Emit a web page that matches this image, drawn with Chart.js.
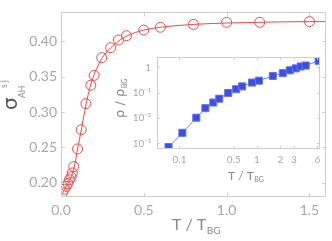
<!DOCTYPE html>
<html><head><meta charset="utf-8">
<script src="https://cdn.jsdelivr.net/npm/chart.js@4/dist/chart.umd.min.js"></script>
<style>
html,body{margin:0;padding:0;background:#fff;}
#wrap{position:relative;width:332px;height:241px;}
#main{position:absolute;left:0;top:0;}
#inset{position:absolute;left:105px;top:45px;}
</style></head>
<body><div id="wrap"><canvas id="main" width="332" height="241"></canvas><canvas id="inset" width="222" height="140"></canvas></div>
<script>
// ---- data ----
const T_main = [0.009,0.021,0.032,0.042,0.051,0.061,0.068,0.077,0.1,0.122,0.15,0.18,0.2,0.246,0.3,0.347,0.395,0.5,0.6,0.8,1.0,1.2,1.5];
const sigmaAH = [0.186,0.191,0.195,0.199,0.2045,0.2085,0.214,0.223,0.248,0.275,0.312,0.338,0.352,0.377,0.391,0.402,0.408,0.416,0.420,0.424,0.427,0.427,0.428];
const fitT = [0,0.01,0.03,0.05,0.07,0.085,0.1,0.125,0.15,0.175,0.2,0.25,0.3,0.35,0.4,0.5,0.6,0.8,1.0,1.2,1.5,1.6];
const fitSigma = [0.182,0.186,0.195,0.203,0.214,0.228,0.248,0.278,0.31,0.335,0.353,0.377,0.391,0.401,0.408,0.416,0.420,0.424,0.426,0.427,0.428,0.428];
const T_inset = [0.0723,0.109,0.165,0.216,0.273,0.326,0.425,0.538,0.643,0.863,1.06,1.6,2.15,2.65,3.16,3.66,4.25,6.24];
const rhoRatio = [0.00071,0.0026,0.0103,0.0245,0.041,0.058,0.0975,0.138,0.178,0.252,0.299,0.46,0.596,0.77,0.92,1.09,1.19,1.83];
const mainXTicks = [0,0.5,1,1.5];
const mainXLabels = ['0.0','0.5','1.0','1.5'];
const mainYTicks = [0.20,0.25,0.30,0.35,0.40];
const mainYLabels = ['0.20','0.25','0.30','0.35','0.40'];
const insetXTicks = [0.1,0.5,1,2,3,6];
const insetXLabels = ['0.1','0.5','1','2','3','6'];
const insetYTicks = [0.001,0.01,0.1,1];
const insetYLabels = ['10\u207B\u00B3','10\u207B\u00B2','10\u207B\u00B9','1'];

const FONT = 'Lato, "Open Sans", sans-serif';
const AXIS = '#cfcfcf';
const LABEL = '#a8a8a8';

function setTicks(vals){ return function(s){ s.ticks = vals.map(v=>({value:v})); }; }

const frameTicks = {
  id:'frameTicks',
  beforeDraw(chart, args, opts){
    const a = chart.chartArea, c = chart.ctx;
    if (opts.bg){ c.save(); c.fillStyle = opts.bg; c.fillRect(a.left,a.top,a.right-a.left,a.bottom-a.top); c.restore(); }
  },
  afterDraw(chart, args, opts){
    const a = chart.chartArea, c = chart.ctx, L = opts.len;
    c.save();
    c.strokeStyle = AXIS; c.lineWidth = 1;
    c.strokeRect(Math.round(a.left)+0.5, Math.round(a.top)+0.5, Math.round(a.right-a.left)-1, Math.round(a.bottom-a.top)-1);
    c.beginPath();
    chart.scales.x.ticks.forEach(t=>{
      const x = Math.round(chart.scales.x.getPixelForValue(t.value))+0.5;
      c.moveTo(x,a.bottom); c.lineTo(x,a.bottom-L);
      c.moveTo(x,a.top); c.lineTo(x,a.top+L);
    });
    chart.scales.y.ticks.forEach(t=>{
      const y = Math.round(chart.scales.y.getPixelForValue(t.value))+0.5;
      c.moveTo(a.left,y); c.lineTo(a.left+L,y);
      c.moveTo(a.right,y); c.lineTo(a.right-L,y);
    });
    c.stroke();
    c.restore();
    if (opts.titles) opts.titles(c);
  }
};

function mainTitles(c){
  c.save();
  // x title
  c.textBaseline = 'alphabetic'; c.textAlign = 'left';
  c.fillStyle = '#8a8a8a';
  c.font = '16px ' + FONT;
  const s = 'T / T';
  c.fillText(s, 172, 230);
  const w = c.measureText(s).width;
  c.font = '10px ' + FONT;
  c.fillText('BG', 172 + w + 0.5, 234);
  // y title (rotated)
  c.translate(17, 110); c.rotate(-Math.PI/2);
  c.fillStyle = '#555';
  c.font = '20px "DejaVu Sans", sans-serif';
  c.fillText('\u03C3', 0, 0);
  c.fillStyle = '#8a8a8a';
  c.font = '8.5px ' + FONT;
  c.fillText('AH', 12, 8);
  c.fillText('s j', 22, -10);
  c.restore();
}

function insetTitles(c){
  c.save();
  c.textBaseline = 'alphabetic'; c.textAlign = 'left';
  c.fillStyle = '#8a8a8a';
  c.font = '12px ' + FONT;
  const s = 'T / T';
  c.fillText(s, 123, 135);
  const w = c.measureText(s).width;
  c.font = '7px ' + FONT;
  c.fillText('BG', 123 + w + 0.5, 137);
  // y title
  c.translate(19, 73); c.rotate(-Math.PI/2);
  c.font = '13px "DejaVu Sans", sans-serif';
  c.fillStyle = '#8a8a8a';
  const s2 = '\u03C1 / \u03C1';
  c.fillText(s2, 0, 0);
  const w2 = c.measureText(s2).width;
  c.font = '7px ' + FONT;
  c.fillText('BG', w2 + 0.5, 3);
  c.restore();
}

new Chart(document.getElementById('main'), {
  type:'scatter',
  data:{datasets:[
    {type:'line', data: fitT.map((x,i)=>({x, y: fitSigma[i]})), borderColor:'#f04848', borderWidth:1, pointRadius:0, cubicInterpolationMode:'monotone', fill:false, order:2},
    {data: T_main.map((x,i)=>({x, y: sigmaAH[i]})), showLine:false, pointStyle:'circle', pointRadius:5, borderColor:'#f04848', backgroundColor:'rgba(0,0,0,0)', borderWidth:1, order:1}
  ]},
  options:{
    responsive:false, animation:false, devicePixelRatio:1,
    layout:{padding:{top:1,right:1,left:0,bottom:0}},
    plugins:{legend:{display:false}, tooltip:{enabled:false}, frameTicks:{len:4, titles: mainTitles}},
    scales:{
      x:{type:'linear', min:0, max:1.6, afterBuildTicks:setTicks(mainXTicks), afterFit:s=>{s.height=44;},
         grid:{display:false, drawTicks:false}, border:{display:false},
         ticks:{padding:5, color:LABEL, font:{family:FONT, size:14}, maxRotation:0, autoSkip:false, callback:(v,i)=>mainXLabels[i]}},
      y:{type:'linear', min:0.18, max:0.441, afterBuildTicks:setTicks(mainYTicks), afterFit:s=>{s.width=61;},
         grid:{display:false, drawTicks:false}, border:{display:false},
         ticks:{padding:4, color:LABEL, font:{family:FONT, size:14}, autoSkip:false, callback:(v,i)=>mainYLabels[i]}}
    }
  },
  plugins:[frameTicks]
});

new Chart(document.getElementById('inset'), {
  type:'scatter',
  data:{datasets:[
    {data: T_inset.map((x,i)=>({x, y: rhoRatio[i]})), showLine:true, borderColor:'#7283ee', borderWidth:1, pointStyle:'rect', pointRadius:5, backgroundColor:'#3b4fe0', pointBorderColor:'#6374ea', pointBorderWidth:1}
  ]},
  options:{
    responsive:false, animation:false, devicePixelRatio:1,
    layout:{padding:{top:7,right:7,left:0,bottom:0}},
    plugins:{legend:{display:false}, tooltip:{enabled:false}, frameTicks:{len:3, bg:'#ffffff', titles: insetTitles}},
    scales:{
      x:{type:'logarithmic', min:0.0513, max:6.5, afterBuildTicks:setTicks(insetXTicks), afterFit:s=>{s.height=36;},
         grid:{display:false, drawTicks:false}, border:{display:false},
         ticks:{padding:5, color:LABEL, font:{family:FONT, size:10}, maxRotation:0, autoSkip:false, callback:(v,i)=>insetXLabels[i]}},
      y:{type:'logarithmic', min:0.000596, max:2.585, afterBuildTicks:setTicks(insetYTicks), afterFit:s=>{s.width=52;},
         grid:{display:false, drawTicks:false}, border:{display:false},
         ticks:{padding:6, color:LABEL, font:{family:FONT, size:10}, autoSkip:false, callback:(v,i)=>insetYLabels[i]}}
    }
  },
  plugins:[frameTicks]
});
</script>
</body></html>
